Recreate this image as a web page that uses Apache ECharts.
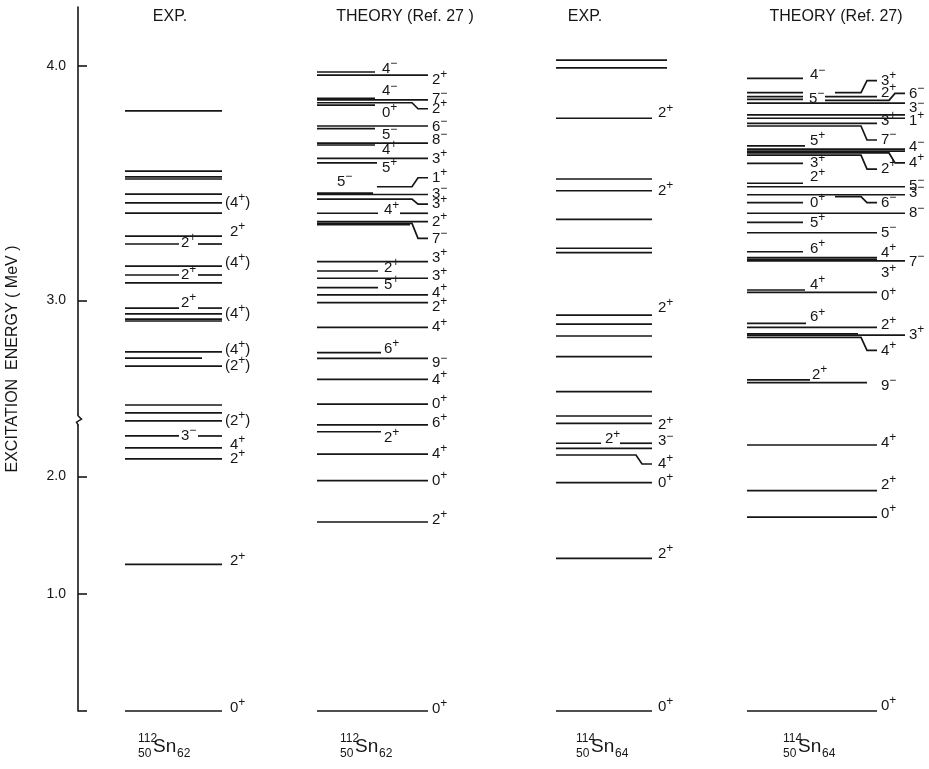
<!DOCTYPE html>
<html><head><meta charset="utf-8">
<script src="https://cdn.jsdelivr.net/npm/echarts@6/dist/echarts.min.js"></script>
<style>html,body{margin:0;padding:0;background:#fff}#c{width:929px;height:769px}</style>
</head><body><div id="c"></div>
<script>
// ---------- DATA (energies in MeV, spins as printed) ----------
const headers = ['EXP.', 'THEORY (Ref. 27 )', 'EXP.', 'THEORY (Ref. 27)'];
const nuclideMass = ['112', '112', '114', '114'];
const nuclideZ = ['50', '50', '50', '50'];
const nuclideN = ['62', '62', '64', '64'];
const tickEnergies = [1.0, 2.0, 3.0, 4.0];
const axisTitle = 'EXCITATION  ENERGY ( MeV )';

const exp112Energy = [3.807, 3.551, 3.526, 3.517, 3.453, 3.415, 3.372, 3.274, 3.240, 3.146, 3.108, 3.074, 2.967, 2.942, 2.920, 2.912, 2.780, 2.754, 2.720, 2.554, 2.520, 2.472, 2.344, 2.242, 2.148, 1.25, 0];
const exp112Spin = ['', '', '', '', '', '(4+)', '', '2+', '2+', '(4+)', '2+', '', '2+', '(4+)', '', '', '(4+)', '', '(2+)', '', '', '(2+)', '3-', '4+', '2+', '2+', '0+'];

const th112Energy = [3.973, 3.960, 3.861, 3.854, 3.842, 3.832, 3.743, 3.732, 3.670, 3.662, 3.605, 3.586, 3.484, 3.457, 3.451, 3.431, 3.371, 3.335, 3.328, 3.322, 3.165, 3.125, 3.094, 3.054, 3.023, 2.990, 2.885, 2.777, 2.753, 2.663, 2.558, 2.438, 2.380, 2.190, 1.963, 1.611, 0];
const th112Spin = ['4-', '2+', '4-', '7-', '2+', '0+', '6-', '5-', '8-', '4+', '3+', '5+', '1+', '5-', '3-', '3+', '4+', '2+', '7-', '', '3+', '2+', '3+', '5+', '4+', '2+', '4+', '6+', '9-', '4+', '0+', '6+', '2+', '4+', '0+', '2+', '0+'];

const exp114Energy = [4.024, 3.991, 3.776, 3.517, 3.467, 3.345, 3.222, 3.203, 2.937, 2.899, 2.848, 2.760, 2.611, 2.507, 2.452, 2.282, 2.239, 2.182, 1.946, 1.30, 0];
const exp114Spin = ['', '', '2+', '', '2+', '', '', '', '2+', '', '', '', '', '', '2+', '3-', '2+', '4+', '0+', '2+', '0+'];

const th114Energy = [3.946, 3.885, 3.868, 3.856, 3.852, 3.840, 3.790, 3.776, 3.754, 3.743, 3.658, 3.644, 3.636, 3.628, 3.619, 3.584, 3.499, 3.484, 3.450, 3.442, 3.416, 3.371, 3.332, 3.288, 3.207, 3.182, 3.175, 3.168, 3.044, 3.034, 2.902, 2.885, 2.857, 2.852, 2.842, 2.661, 2.649, 2.267, 1.878, 1.653, 0];
const th114Spin = ['4-', '3+', '2+', '5-', '6-', '3-', '1+', '', '3+', '7-', '5+', '4-', '', '4+', '2+', '3+', '2+', '5-', '3-', '6-', '0+', '8-', '5+', '5-', '6+', '4+', '3+', '7-', '4+', '0+', '6+', '2+', '', '3+', '4+', '2+', '9-', '4+', '2+', '0+', '0+'];

// ---------- LAYOUT (label placement; pixels) ----------
// m: 'r' right label, 'c' right label with bent leader, 'i' label at lx
// e/s: line end/start, g: gap in line, ext: use extended column end, dy: label offset
const exp112Layout = [{}, {}, {}, {}, {}, {m:'r'}, {}, {m:'r', dy:-4}, {m:'i', lx:181, dy:-1, g:[179,198]},
  {m:'r', dy:-3}, {m:'i', lx:181, dy:0, g:[179,198]}, {}, {m:'i', lx:181, dy:-5, g:[179,198]}, {m:'r'}, {}, {},
  {m:'r', dy:-2}, {e:202}, {m:'r'}, {}, {}, {m:'r'}, {m:'i', lx:181, dy:0, g:[179,198]}, {m:'r', dy:-3}, {m:'r'},
  {m:'r', dy:-3}, {m:'r', dy:-3}];
const th112Layout = [{m:'i', e:375, lx:382, dy:-3}, {m:'r', dy:5}, {m:'i', e:375, lx:382, dy:-7}, {m:'r', dy:-1},
  {m:'c', dy:6}, {m:'i', e:375, lx:382, dy:8}, {m:'r', dy:1}, {m:'i', e:375, lx:382, dy:6}, {m:'r', dy:-3},
  {m:'i', e:375, lx:382, dy:5}, {m:'r'}, {m:'i', e:377, lx:382, dy:5}, {m:'c', s:377, dy:-9},
  {m:'i', e:373, lx:337, dy:-11}, {m:'r', dy:-1}, {m:'c', dy:5}, {m:'i', lx:384, dy:-3, g:[378,400]}, {m:'r'},
  {m:'c', dy:15}, {e:410}, {m:'r', dy:-4}, {m:'i', e:378, lx:384, dy:-3}, {m:'r', dy:-2},
  {m:'i', e:378, lx:384, dy:-3}, {m:'r', dy:-2}, {m:'r', dy:4}, {m:'r'}, {m:'i', e:381, lx:384, dy:-4},
  {m:'r', dy:5}, {m:'r'}, {m:'r'}, {m:'r', dy:-2}, {m:'i', e:381, lx:384, dy:6}, {m:'r'}, {m:'r'},
  {m:'r', dy:-2}, {m:'r', dy:-2}];
const exp114Layout = [{e:667}, {e:667}, {m:'r', dy:-5}, {}, {m:'r'}, {}, {}, {}, {m:'r', dy:-7}, {}, {}, {}, {}, {},
  {m:'r', dy:2}, {m:'r', dy:-2, g:[601,620]}, {m:'i', lx:605, dy:-9}, {m:'c', dy:9}, {m:'r'}, {m:'r', dy:-5},
  {m:'r', dy:-4}];
const th114Layout = [{m:'i', e:803, lx:810, dy:-3}, {m:'c', dy:-12, g:[803,835]}, {m:'r', dy:-4, g:[803,825]},
  {m:'i', e:803, lx:809, dy:-1}, {m:'c', s:825, ext:true, dy:-7}, {m:'r', ext:true, dy:5}, {m:'r', ext:true, dy:6},
  {ext:true}, {m:'r', dy:-3}, {m:'c', dy:14}, {m:'i', e:805, lx:810, dy:-5}, {m:'r', ext:true, dy:-2}, {ext:true},
  {m:'c', ext:true, dy:10}, {m:'c', dy:14}, {m:'i', e:803, lx:810, dy:0}, {m:'i', e:803, lx:810, dy:-6},
  {m:'r', ext:true, dy:-1}, {m:'r', ext:true, dy:-2}, {m:'c', s:835, dy:6}, {m:'i', e:803, lx:810, dy:0},
  {m:'r', ext:true}, {m:'i', e:803, lx:810, dy:0}, {m:'r'}, {m:'i', e:803, lx:810, dy:-3}, {m:'r', dy:-5},
  {m:'r', dy:14}, {m:'r', ext:true, dy:1}, {m:'i', e:805, lx:810, dy:-5}, {m:'r', dy:4},
  {m:'i', e:806, lx:810, dy:-6}, {m:'r', dy:-2}, {e:858}, {m:'r', ext:true}, {m:'c', dy:13},
  {m:'i', e:810, lx:812, dy:-5}, {m:'r', e:867, dy:3}, {m:'r', dy:-2}, {m:'r', dy:-6}, {m:'r', dy:-3},
  {m:'r', dy:-5}];

const COLS = [
  {energy: exp112Energy, spin: exp112Spin, layout: exp112Layout, x0:125, x1:222, lo:8},
  {energy: th112Energy, spin: th112Spin, layout: th112Layout, x0:317, x1:428, lo:4},
  {energy: exp114Energy, spin: exp114Spin, layout: exp114Layout, x0:556, x1:652, lo:6},
  {energy: th114Energy, spin: th114Spin, layout: th114Layout, x0:747, x1:877, xe:905, lo:4}
];
const headerX = [170, 405, 585, 836];
const nuclideX = [138, 340, 576, 783];

// ---------- broken energy scale: above BREAK the scale is doubled ----------
const BREAK = 2.5;
const toAxis = e => e <= BREAK ? e : BREAK + 2 * (e - BREAK);
const fromAxis = v => v <= BREAK ? v : BREAK + (v - BREAK) / 2;

const INK = '#161616';
const LW = 1.7;
const FONT = 'Liberation Sans';
const RICH = {
  n: {fontSize: 15, fontFamily: FONT, fill: INK, lineHeight: 22},
  s: {fontSize: 12, fontFamily: FONT, fill: INK, verticalAlign: 'top'}
};
function richText(sp) {
  let out = '';
  for (const ch of sp) {
    if (ch === '+') out += '{s|+}';
    else if (ch === '-') out += '{s|\u2212}';
    else out += '{n|' + ch + '}';
  }
  return out;
}

function renderLevel(ci, params, api) {
  const col = COLS[ci];
  const i = api.value(3);
  const lay = col.layout[i] || {};
  const v = api.value(1);
  const X = x => api.coord([x, v])[0];
  const y = api.coord([col.x0, v])[1];
  const end = lay.ext ? col.xe : col.x1;
  const lineEnd = lay.e != null ? lay.e : end;
  const start = lay.s != null ? lay.s : col.x0;
  const dy = lay.dy || 0;
  const children = [];
  const st = {stroke: INK, lineWidth: LW, fill: null};
  let from = start;
  if (lay.g) {
    children.push({type: 'line', shape: {x1: X(start), y1: y, x2: X(lay.g[0]), y2: y}, style: st, z2: 1});
    from = lay.g[1];
  }
  if (lay.m === 'c') {
    children.push({type: 'polyline', shape: {points: [[X(from), y], [X(end - 16), y], [X(end - 10), y + dy], [X(end), y + dy]]}, style: st, z2: 1});
  } else {
    children.push({type: 'line', shape: {x1: X(from), y1: y, x2: X(lineEnd), y2: y}, style: st, z2: 1});
  }
  const sp = col.spin[i];
  if (sp && lay.m) {
    let lx = lay.m === 'i' ? X(lay.lx) : X(end) + col.lo;
    if (sp[0] === '(' && lay.m !== 'i') lx -= 5;
    children.push({type: 'text', style: {text: richText(sp), x: lx, y: y + dy, align: 'left', verticalAlign: 'middle', rich: RICH}, z2: 5});
  }
  return {type: 'group', children};
}

const series = COLS.map((col, ci) => ({
  type: 'custom',
  silent: true,
  clip: false,
  encode: {x: 0, y: 1},
  data: col.energy.map((e, i) => [col.x0, toAxis(e), ci, i]),
  renderItem: (params, api) => renderLevel(ci, params, api)
}));

// axis break mark
series.push({
  type: 'custom', silent: true, clip: false, encode: {x: 0, y: 1},
  data: [[78, toAxis(BREAK)]],
  renderItem: (params, api) => {
    const p = api.coord([api.value(0), api.value(1)]);
    return {type: 'group', children: [
      {type: 'rect', shape: {x: p[0] - 3, y: p[1] - 3, width: 7, height: 10}, style: {fill: '#fff'}, z2: 1},
      {type: 'polyline', shape: {points: [[p[0], p[1] - 4], [p[0], p[1] - 2], [p[0] + 3.5, p[1] + 1.5], [p[0] - 1.5, p[1] + 4.5], [p[0], p[1] + 7], [p[0], p[1] + 8]]},
        style: {stroke: INK, lineWidth: 1.5, fill: null}, z2: 2}
    ]};
  }
});

const graphic = [];
headers.forEach((h, k) => graphic.push({type: 'text', x: headerX[k], y: 17,
  style: {text: h, align: 'center', verticalAlign: 'middle', fontSize: 16, fontFamily: FONT, fill: INK}}));
nuclideX.forEach((x, k) => {
  const sub = {fontSize: 12, fontFamily: FONT, fill: INK, verticalAlign: 'top'};
  graphic.push({type: 'group', x: x, y: 733, children: [
    {type: 'text', x: 0, y: 0, style: Object.assign({text: nuclideMass[k]}, sub)},
    {type: 'text', x: 0, y: 15, style: Object.assign({text: nuclideZ[k]}, sub)},
    {type: 'text', x: 15, y: 4, style: {text: 'Sn', fontSize: 19, fontFamily: FONT, fill: INK, verticalAlign: 'top'}},
    {type: 'text', x: 39, y: 15, style: Object.assign({text: nuclideN[k]}, sub)}
  ]});
});

const chart = echarts.init(document.getElementById('c'), null, {renderer: 'canvas'});
chart.setOption({
  animation: false,
  backgroundColor: '#fff',
  grid: {left: 78, right: 0, top: 7, bottom: 58, containLabel: false, outerBoundsMode: 'none'},
  xAxis: {type: 'value', min: 78, max: 929, show: false},
  yAxis: {
    type: 'value', min: 0, max: 6,
    axisLine: {show: true, lineStyle: {color: INK, width: 1.6}},
    axisTick: {show: true, inside: true, length: 9, customValues: [0].concat(tickEnergies.map(toAxis)), lineStyle: {color: INK, width: 1.6}},
    axisLabel: {customValues: tickEnergies.map(toAxis), formatter: v => fromAxis(v).toFixed(1), margin: 12, fontSize: 14, fontFamily: FONT, color: INK},
    splitLine: {show: false},
    name: axisTitle, nameLocation: 'middle', nameGap: 57, nameRotate: 90,
    nameTextStyle: {fontSize: 16, fontFamily: FONT, color: INK}
  },
  graphic: graphic,
  series: series
});
</script></body></html>
